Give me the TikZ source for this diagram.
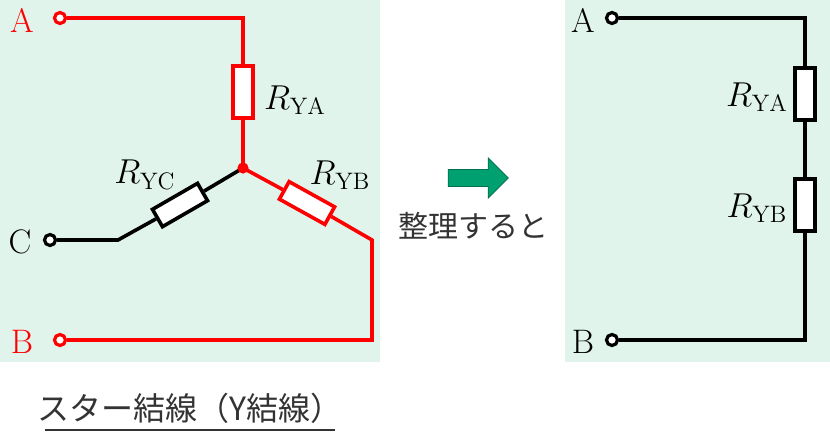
\documentclass[tikz,border=0pt]{standalone}
\usepackage{fontspec}
\newfontfamily\jp{Noto Sans CJK JP}
\usetikzlibrary{shapes.arrows}
\definecolor{panel}{HTML}{E0F4EC}
\definecolor{arrowgreen}{HTML}{00A070}
\tikzset{
  wire/.style={line width=1.8pt},
  res/.style={draw, line width=1.8pt, fill=white, rectangle, minimum width=26pt, minimum height=10pt, inner sep=0pt},
  term/.style={circle, draw, line width=1.6pt, fill=white, minimum size=5.5pt, inner sep=0pt},
  lbl/.style={font=\fontsize{17}{19}\selectfont}
}
\begin{document}
\begin{tikzpicture}[x=0.5pt,y=-0.5pt]
\useasboundingbox (0,0) rectangle (830,440);
\fill[panel] (0,0) rectangle (380,362);
\fill[panel] (565,0) rectangle (830,362);
% left: star connection
\coordinate (J) at (243,168);
\coordinate (a1) at (243,18);
\coordinate (b1) at (372,240);
\coordinate (b2) at (372,340);
\coordinate (c1) at (118,240);
\node[term, draw=red] (A) at (60,18) {};
\node[term, draw=red] (B) at (60,340) {};
\node[term] (C) at (50,240) {};
\node[lbl, text=red] at (22,20) {A};
\node[lbl, text=red] at (22,342) {B};
\node[lbl] at (20,242) {C};
\node[res, draw=red, rotate=-90] (rYA) at (243,92) {};
\node[res, draw=red, rotate=-29] (rYB) at (307,203) {};
\node[res, rotate=210] (rYC) at (180,205) {};
\draw[wire, red] (A) -- (a1) -- (rYA.west);
\draw[wire, red] (rYA.east) -- (J) -- (rYB.west);
\draw[wire, red] (rYB.east) -- (b1) -- (b2) -- (B);
\draw[wire] (J) -- (rYC.west);
\draw[wire] (rYC.east) -- (c1) -- (C);
\fill[red] (J) circle (2.8pt);
\node[lbl] at (295,100) {$R_{\mathrm{YA}}$};
\node[lbl] at (145,175) {$R_{\mathrm{YC}}$};
\node[lbl] at (340,175) {$R_{\mathrm{YB}}$};
% arrow
\node[single arrow, fill=arrowgreen, draw=arrowgreen!70!black, minimum height=30pt, minimum width=20pt, single arrow head extend=3pt, inner sep=2pt] (arr) at (474,178) {};
\node[font=\jp\fontsize{15}{17}\selectfont, text=black!80] (txt) at (473,226) {整理すると};
% right: series
\coordinate (r1) at (805,18);
\coordinate (r2) at (805,340);
\node[term] (A2) at (612,18) {};
\node[term] (B2) at (612,340) {};
\node[lbl] at (583,20) {A};
\node[lbl] at (583,342) {B};
\node[res, rotate=-90] (sYA) at (805,94) {};
\node[res, rotate=-90] (sYB) at (805,205) {};
\draw[wire] (A2) -- (r1) -- (sYA.west);
\draw[wire] (sYA.east) -- (sYB.west);
\draw[wire] (sYB.east) -- (r2) -- (B2);
\node[lbl] at (757,97) {$R_{\mathrm{YA}}$};
\node[lbl] at (757,208) {$R_{\mathrm{YB}}$};
% caption
\node[font=\jp\fontsize{16}{18}\selectfont, text=black!80] (cap) at (190,408) {スター結線（Y結線）};
\draw[line width=0.8pt, black!80] (45,430) -- (335,430);
\end{tikzpicture}
\end{document}
